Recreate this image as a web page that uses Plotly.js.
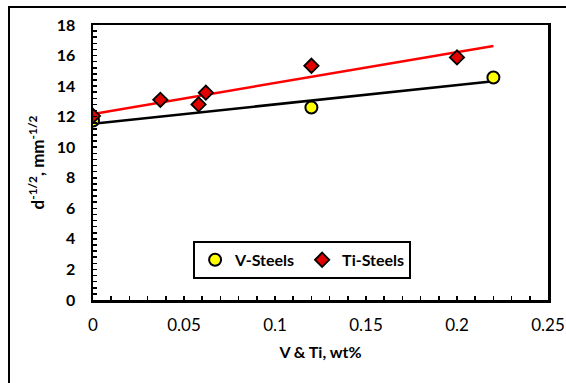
<!DOCTYPE html>
<html><head><meta charset="utf-8">
<script src="https://cdn.plot.ly/plotly-3.0.1.min.js"></script>
<style>
html,body{margin:0;padding:0;background:#fff;}
#wrap{position:absolute;left:0;top:0;width:566px;height:383px;overflow:hidden;}
#frame{position:absolute;left:8px;top:6px;width:600px;height:400px;border-left:2px solid #000;border-top:2px solid #000;pointer-events:none;}
#chart{position:absolute;left:0;top:0;width:566px;height:383px;}
</style></head>
<body><div id="wrap"><div id="chart"></div><div id="frame"></div></div>
<script>
const vX = [0, 0.12, 0.22];
const vY = [11.75, 12.6, 14.56];
const tiX = [0, 0.037, 0.058, 0.062, 0.12, 0.2];
const tiY = [12.05, 13.1, 12.8, 13.57, 15.33, 15.88];
const trendX = [0, 0.22];

function fit(xs, ys){
  const n = xs.length;
  const mx = xs.reduce((a,b)=>a+b,0)/n, my = ys.reduce((a,b)=>a+b,0)/n;
  let sxy=0, sxx=0;
  for(let i=0;i<n;i++){ sxy+=(xs[i]-mx)*(ys[i]-my); sxx+=(xs[i]-mx)**2; }
  const m = sxy/sxx, b = my - m*mx;
  return trendX.map(x=>m*x+b);
}

const font = "Lato, 'Open Sans', sans-serif";
const traces = [
  {x: trendX, y: fit(vX, vY), mode:'lines', line:{color:'#000', width:2.5}, showlegend:false, hoverinfo:'skip'},
  {x: trendX, y: fit(tiX, tiY), mode:'lines', line:{color:'#ff0000', width:2.5}, showlegend:false, hoverinfo:'skip'},
  {x: vX, y: vY, mode:'markers', name:'V-Steels',
   marker:{symbol:'circle', size:12, color:'#ffff00', line:{color:'#000', width:2}}},
  {x: tiX, y: tiY, mode:'markers', name:'Ti-Steels',
   marker:{symbol:'diamond', size:11, color:'#e00000', line:{color:'#000', width:1.8}}}
];

const layout = {
  width:566, height:383,
  margin:{l:93, r:18, t:25, b:83},
  paper_bgcolor:'rgba(0,0,0,0)', plot_bgcolor:'#fff',
  font:{family:font, size:14, color:'#000'},
  xaxis:{range:[0,0.25], dtick:0.05, showgrid:false, zeroline:false,
    showline:true, linecolor:'#000', linewidth:2.5, mirror:true,
    ticks:'inside', ticklen:4, tickwidth:1.5, tickcolor:'#000',
    minor:{dtick:0.01, ticks:'inside', ticklen:4, tickwidth:1.5, tickcolor:'#000'},
    tickfont:{family:font, size:17}, ticklabelstandoff:8,
    title:{text:'V & Ti, wt%', font:{family:font, size:16, weight:'bold'}, standoff:13}},
  yaxis:{range:[0,18], dtick:2, showgrid:false, zeroline:false,
    showline:true, linecolor:'#000', linewidth:2.5, mirror:true,
    ticks:'inside', ticklen:4, tickwidth:1.5, tickcolor:'#000',
    minor:{dtick:0.4, ticks:'inside', ticklen:4, tickwidth:1.5, tickcolor:'#000'},
    tickfont:{family:font, size:16, weight:'bold'}, ticklabelstandoff:12,
    title:{text:'d<sup>-1/2</sup>, mm<sup>-1/2</sup>', font:{family:font, size:17, weight:'bold'}, standoff:8}},
  legend:{orientation:'h', x:0.22, y:0.215, xanchor:'left', yanchor:'top',
    bgcolor:'#fff', bordercolor:'#000', borderwidth:2,
    font:{family:font, size:16, weight:'bold'}, itemwidth:30, entrywidth:62}
};
Plotly.newPlot('chart', traces, layout, {displayModeBar:false, staticPlot:true});
</script></body></html>
